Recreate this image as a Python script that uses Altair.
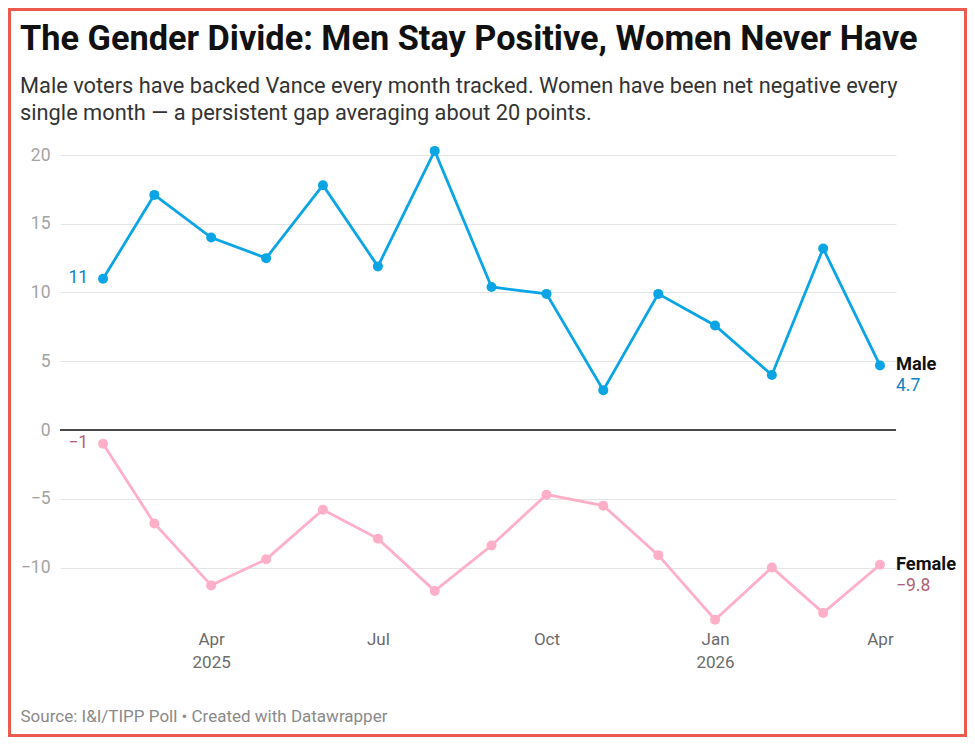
import altair as alt
import pandas as pd

# ---------------- data ----------------
months = ["2025-02-01", "2025-03-01", "2025-04-01", "2025-05-01", "2025-06-01",
          "2025-07-01", "2025-08-01", "2025-09-01", "2025-10-01", "2025-11-01",
          "2025-12-01", "2026-01-01", "2026-02-01", "2026-03-01", "2026-04-01"]
male = [11.0, 17.1, 14.0, 12.5, 17.8, 11.9, 20.3, 10.4, 9.9, 2.9, 9.9, 7.6, 4.0, 13.2, 4.7]
female = [-1.0, -6.8, -11.3, -9.4, -5.8, -7.9, -11.7, -8.4, -4.7, -5.5, -9.1, -13.8, -10.0, -13.3, -9.8]
series_names = ["Male", "Female"]
y_ticks = [-10, -5, 0, 5, 10, 15, 20]

title_text = "The Gender Divide: Men Stay Positive, Women Never Have"
subtitle_lines = ["Male voters have backed Vance every month tracked. Women have been net negative every",
                  "single month \u2014 a persistent gap averaging about 20 points."]
source_text = "Source: I&I/TIPP Poll \u2022 Created with Datawrapper"

rows = []
for d, m, f in zip(months, male, female):
    rows.append({"date": d, "series": "Male", "value": m})
    rows.append({"date": d, "series": "Female", "value": f})
df = pd.DataFrame(rows)
first_df = df[df["date"] == months[0]].copy()
last_df = df[df["date"] == months[-1]].copy()
zero_df = pd.DataFrame({"value": [0]})
frame_df = pd.DataFrame({"k": [0]})

# ---------------- layout constants ----------------
W, H = 836, 467.5
PAD_L, PAD_T, PAD_R, PAD_B = 52, 147, 71, 114.5
FONT = "Roboto"
MALE_C, FEMALE_C = "#0ba5e6", "#ffafc8"
MALE_TXT, FEMALE_TXT = "#0f82c6", "#b05f7d"

xscale = alt.Scale(type="utc",
                   domain=[alt.DateTime(year=2025, month=1, date=8, hours=12, utc=True),
                           alt.DateTime(year=2026, month=4, date=9, hours=18, utc=True)])
tick_dates = [alt.DateTime(year=2025, month=4, date=1, utc=True),
              alt.DateTime(year=2025, month=7, date=1, utc=True),
              alt.DateTime(year=2025, month=10, date=1, utc=True),
              alt.DateTime(year=2026, month=1, date=1, utc=True),
              alt.DateTime(year=2026, month=4, date=1, utc=True)]
label_expr = ("(utcmonth(datum.value) == 0 || (utcyear(datum.value) == 2025 && utcmonth(datum.value) == 3))"
              " ? [utcFormat(datum.value, '%b'), utcFormat(datum.value, '%Y')]"
              " : utcFormat(datum.value, '%b')")
xaxis = alt.Axis(values=tick_dates, labelExpr=label_expr, grid=False, domain=False, ticks=False,
                 labelFont=FONT, labelFontSize=17, labelColor="#6b6b6b", labelPadding=9,
                 labelLineHeight=23, labelBaseline="top",
                 title=source_text, titleFont=FONT, titleFontSize=17, titleFontWeight="normal",
                 titleColor="#8a8a8a", titleX=-40, titleY=94, titleAlign="left",
                 titleBaseline="middle", titleAnchor="start")
yscale = alt.Scale(domain=[-14, 20], nice=False, zero=False)
yaxis = alt.Axis(values=y_ticks, title=None, domain=False, ticks=False, grid=True,
                 gridColor="#e4e4e4", gridWidth=1, labelFont=FONT, labelFontSize=17.5,
                 labelColor="#a3a3a3", labelPadding=10)

X = alt.X("date:T", scale=xscale, axis=xaxis)
Y = alt.Y("value:Q", scale=yscale, axis=yaxis)
color = alt.Color("series:N", scale=alt.Scale(domain=series_names, range=[MALE_C, FEMALE_C]), legend=None)
tcolor = alt.Color("series:N", scale=alt.Scale(domain=series_names, range=[MALE_TXT, FEMALE_TXT]), legend=None)

frame = alt.Chart(frame_df).mark_rect(fillOpacity=0, stroke="#ec5a4e", strokeWidth=3).encode(
    x=alt.value(-PAD_L + 1.5), x2=alt.value(W + PAD_R - 1.5),
    y=alt.value(-PAD_T + 1.5), y2=alt.value(H + PAD_B - 1.5))

zero = alt.Chart(zero_df).mark_rule(color="#111111", strokeWidth=1.4).encode(y=Y)

lines = alt.Chart(df).mark_line(strokeWidth=2.8, point=alt.OverlayMarkDef(size=100, filled=True, opacity=1)).encode(
    x=X, y=Y, color=color, detail="series:N")

first_lbl = alt.Chart(first_df).mark_text(align="right", baseline="middle", dx=-15, dy=-1,
                                          font=FONT, fontSize=17.5).encode(
    x=X, y=Y, text=alt.Text("value:Q", format="d"), color=tcolor)

end_name = alt.Chart(last_df).mark_text(align="left", baseline="middle", dx=16, dy=0,
                                        font=FONT, fontSize=18.3, fontWeight="bold",
                                        color="#111111").encode(
    x=X, y=Y, text="series:N")
end_val = alt.Chart(last_df).mark_text(align="left", baseline="middle", dx=16, dy=21,
                                       font=FONT, fontSize=17.5).encode(
    x=X, y=Y, text=alt.Text("value:Q", format=".1f"), color=tcolor)

chart = alt.layer(frame, zero, lines, first_lbl, end_name, end_val).properties(
    width=W, height=H,
    padding={"left": PAD_L, "top": PAD_T, "right": PAD_R, "bottom": PAD_B},
    autosize=alt.AutoSizeParams(type="none"),
    background="white",
    title=alt.TitleParams(text=title_text, subtitle=subtitle_lines, anchor="start", frame="group",
                          dx=-40, offset=-116.5, font=FONT, fontSize=34.3, fontWeight="bold",
                          color="#111111", subtitleFont=FONT, subtitleFontSize=21.8,
                          subtitleColor="#333333", subtitleLineHeight=27, subtitlePadding=18),
).configure_view(stroke=None).resolve_scale(color="independent")

chart.save("out.html", embed_options={"renderer": "svg", "actions": False})
